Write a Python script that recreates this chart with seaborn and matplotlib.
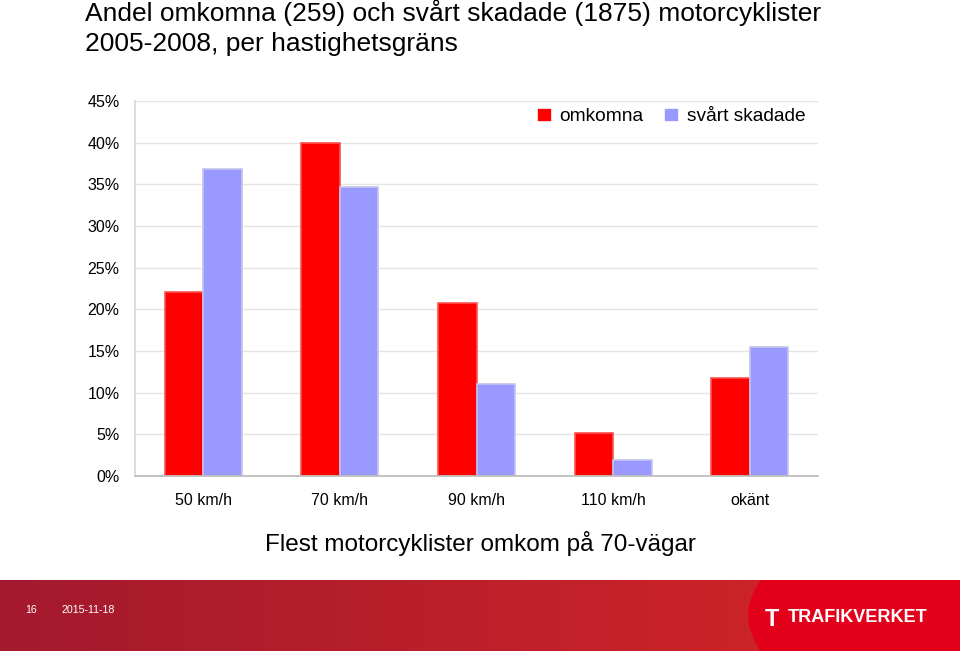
import numpy as np
import matplotlib
matplotlib.use("Agg")
import matplotlib.pyplot as plt
import matplotlib.patches as patches
import pandas as pd
import seaborn as sns

categories = ["50 km/h", "70 km/h", "90 km/h", "110 km/h", "okänt"]
omkomna = [22.1, 40.0, 20.8, 5.2, 11.8]
svart_skadade = [36.8, 34.7, 11.0, 1.9, 15.5]
series_names = ["omkomna", "svårt skadade"]
yticks = [0, 5, 10, 15, 20, 25, 30, 35, 40, 45]

sns.set_theme(style="white")
plt.rcParams["font.family"] = ["Liberation Sans", "DejaVu Sans"]
plt.rcParams["text.color"] = "black"
plt.rcParams["xtick.labelcolor"] = "black"
plt.rcParams["ytick.labelcolor"] = "black"

df = pd.DataFrame({
    "kategori": categories * 2,
    "andel": omkomna + svart_skadade,
    "serie": [series_names[0]] * len(categories) + [series_names[1]] * len(categories),
})

fig = plt.figure(figsize=(9.6, 6.51), dpi=100)
ax = fig.add_axes([135 / 960, 1 - 476 / 651, (818 - 135) / 960, (476 - 101) / 651])

sns.barplot(data=df, x="kategori", y="andel", hue="serie", order=categories,
            hue_order=series_names, palette=["#ff0000", "#9999ff"],
            width=0.565, gap=0, ax=ax, linewidth=1.2, saturation=1)
for bar, ec in zip(ax.patches, ["#ff5050"] * 5 + ["#c4c4ee"] * 5):
    bar.set_edgecolor(ec)

ax.set_ylim(0, 45)
ax.set_xlim(-0.5, len(categories) - 0.5)
ax.set_yticks(yticks)
ax.set_yticklabels([f"{v}%" for v in yticks], fontsize=11.5)
ax.tick_params(axis="x", labelsize=11.5, length=0, pad=12, labelcolor="black")
ax.tick_params(axis="y", length=0, pad=11, labelcolor="black")
ax.set_xticks(np.arange(-0.5, len(categories)), minor=True)
ax.tick_params(axis="x", which="minor", length=4, color="#aaaaaa", direction="out")
ax.set_xlabel("")
ax.set_ylabel("")
ax.yaxis.grid(True, color="#e4e4e4", linewidth=1)
ax.set_axisbelow(True)
for s in ["top", "right"]:
    ax.spines[s].set_visible(False)
ax.spines["left"].set_color("#d8d8d8")
ax.spines["bottom"].set_color("#bbbbbb")

ax.legend(loc="upper right", bbox_to_anchor=(0.998, 1.013), frameon=False, ncol=2,
          fontsize=13.8, handlelength=0.75, handleheight=0.75, handletextpad=0.4,
          columnspacing=1.1, borderaxespad=0.2)

fig.text(85 / 960, 1 - 13 / 651, "Andel omkomna (259) och svårt skadade (1875) motorcyklister",
         fontsize=19, va="center", ha="left")
fig.text(85 / 960, 1 - 44 / 651, "2005-2008, per hastighetsgräns",
         fontsize=19, va="center", ha="left")
fig.text(480 / 960, 1 - 544 / 651, "Flest motorcyklister omkom på 70-vägar",
         fontsize=17.5, va="center", ha="center")

# footer band
fax = fig.add_axes([0, 0, 1, 71 / 651])
fax.set_xlim(0, 960)
fax.set_ylim(0, 71)
fax.axis("off")
grad = np.linspace(0, 1, 256)
c0 = np.array([0.64, 0.10, 0.18])
c1 = np.array([0.84, 0.15, 0.15])
img = (c0[None, :] * (1 - grad[:, None]) + c1[None, :] * grad[:, None])[None, :, :]
fax.imshow(img, extent=[0, 960, 0, 71], aspect="auto", zorder=0)
t = np.linspace(0, 1, 50)
xs = list(760 - 12 * np.sin(t * np.pi)) + [960, 960]
ys = list(71 - 71 * t) + [0, 71]
fax.add_patch(patches.Polygon(np.column_stack([xs, ys]), closed=True,
                              facecolor="#e2001a", edgecolor="none", zorder=1))
fax.text(25, 41, "16", color="white", fontsize=7.7, va="center", zorder=2)
fax.text(62, 41, "2015-11-18", color="white", fontsize=7.7, va="center", zorder=2)
fax.text(788, 33, "TRAFIKVERKET", color="white", fontsize=13, fontweight="bold",
         va="center", zorder=2)
fax.text(772, 32, "T", color="white", fontsize=17, fontweight="bold",
         va="center", ha="center", zorder=2)

fig.savefig("out.png", dpi=100)
